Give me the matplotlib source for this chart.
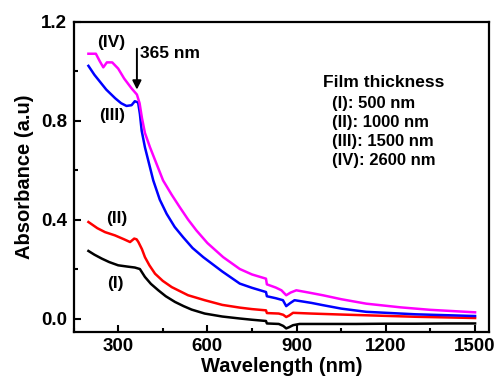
import matplotlib
matplotlib.use("Agg")
import matplotlib.pyplot as plt
from matplotlib.ticker import MultipleLocator

plt.rcParams['font.family'] = ['Liberation Sans', 'DejaVu Sans']
plt.rcParams['font.weight'] = 'bold'

# Absorbance spectra for the four film thicknesses
wl_i = [200, 220, 245, 270, 300, 330, 356, 373, 390, 410, 435, 460, 491, 520, 547, 591,
        650, 709, 750, 797, 800, 840, 855, 865, 875, 888, 910, 933, 1000, 1100, 1200,
        1300, 1400, 1500]
abs_i = [0.273, 0.258, 0.242, 0.228, 0.215, 0.21, 0.206, 0.2, 0.168, 0.14, 0.114, 0.09,
         0.067, 0.05, 0.036, 0.02, 0.008, 0.0, -0.005, -0.01, -0.02, -0.022, -0.03, -0.04,
         -0.035, -0.027, -0.022, -0.022, -0.022, -0.022, -0.021, -0.021, -0.02, -0.02]

wl_ii = [200, 230, 256, 289, 320, 340, 354, 362, 368, 380, 390, 405, 424, 450, 480, 535,
         591, 650, 709, 750, 797, 800, 840, 855, 865, 875, 888, 950, 1050, 1134, 1300, 1500]
abs_ii = [0.39, 0.365, 0.349, 0.336, 0.32, 0.309, 0.323, 0.32, 0.309, 0.28, 0.248, 0.215,
          0.181, 0.152, 0.127, 0.094, 0.074, 0.055, 0.044, 0.038, 0.033, 0.022, 0.02, 0.015,
          0.006, 0.012, 0.023, 0.02, 0.016, 0.013, 0.007, 0.002]

wl_iii = [200, 220, 240, 260, 290, 310, 328, 345, 356, 367, 373, 379, 390, 418, 440, 463,
          490, 518, 550, 586, 650, 709, 750, 797, 800, 830, 854, 865, 878, 893, 950, 988,
          1050, 1134, 1300, 1500]
abs_iii = [1.021, 0.985, 0.955, 0.925, 0.89, 0.87, 0.859, 0.862, 0.878, 0.873, 0.827,
           0.759, 0.692, 0.558, 0.48, 0.423, 0.37, 0.329, 0.285, 0.248, 0.19, 0.141, 0.124,
           0.107, 0.09, 0.082, 0.074, 0.05, 0.062, 0.074, 0.063, 0.054, 0.04, 0.027, 0.017,
           0.01]

wl_iv = [200, 225, 238, 250, 262, 280, 300, 320, 345, 363, 372, 380, 390, 407, 451, 480,
         507, 535, 563, 600, 653, 709, 750, 797, 800, 830, 849, 865, 880, 899, 940, 988,
         1050, 1134, 1250, 1350, 1500]
abs_iv = [1.07, 1.07, 1.04, 1.015, 1.035, 1.035, 1.01, 0.97, 0.93, 0.905, 0.87, 0.81, 0.75,
          0.692, 0.558, 0.5, 0.45, 0.4, 0.356, 0.305, 0.248, 0.2, 0.178, 0.161, 0.138, 0.125,
          0.114, 0.094, 0.105, 0.114, 0.105, 0.094, 0.078, 0.06, 0.045, 0.035, 0.025]

legend_lines = ["(I): 500 nm", "(II): 1000 nm", "(III): 1500 nm", "(IV): 2600 nm"]

fig = plt.figure(figsize=(4.97, 3.85), dpi=100)
ax = fig.add_axes([0.148, 0.138, 0.836, 0.806])

ax.plot(wl_i, abs_i, color='black', lw=1.8)
ax.plot(wl_ii, abs_ii, color='#ff0000', lw=1.8)
ax.plot(wl_iii, abs_iii, color='#0000ff', lw=1.8)
ax.plot(wl_iv, abs_iv, color='#ff00ff', lw=1.8)

ax.set_xlim(150, 1547)
ax.set_ylim(-0.054, 1.2)
ax.xaxis.set_major_locator(MultipleLocator(300))
ax.xaxis.set_minor_locator(MultipleLocator(150))
ax.yaxis.set_major_locator(MultipleLocator(0.4))
ax.yaxis.set_minor_locator(MultipleLocator(0.2))
ax.tick_params(which='both', direction='in', width=1.5, labelsize=13.5, pad=4.5)
ax.tick_params(which='major', length=5)
ax.tick_params(which='minor', length=3)
ax.set_yticks([0.0, 0.4, 0.8, 1.2])
ax.set_yticklabels(["0.0", "0.4", "0.8", "1.2"])
for sp in ax.spines.values():
    sp.set_linewidth(1.6)

ax.set_xlabel("Wavelength (nm)", fontsize=14.5, fontweight='bold', labelpad=1)
ax.set_ylabel("Absorbance (a.u)", fontsize=14.5, fontweight='bold', labelpad=5)

# curve labels
ax.text(278, 1.115, "(IV)", fontsize=12.5, ha='center', va='center')
ax.text(278, 0.82, "(III)", fontsize=12.5, ha='center', va='center')
ax.text(295, 0.403, "(II)", fontsize=12.5, ha='center', va='center')
ax.text(289, 0.141, "(I)", fontsize=12.5, ha='center', va='center')

# band edge marker
ax.annotate("", xy=(363, 0.925), xytext=(363, 1.09),
            arrowprops=dict(arrowstyle='-|>', color='black', lw=1.4, mutation_scale=13,
                            shrinkA=0, shrinkB=0))
ax.text(372, 1.069, "365 nm", fontsize=12.5, ha='left', va='center')

ax.text(990, 0.954, "Film thickness", fontsize=12.5, ha='left', va='center')
for i, s in enumerate(legend_lines):
    ax.text(1018, 0.867 - i * 0.0765, s, fontsize=12, ha='left', va='center')

fig.savefig("out.png", dpi=100)
